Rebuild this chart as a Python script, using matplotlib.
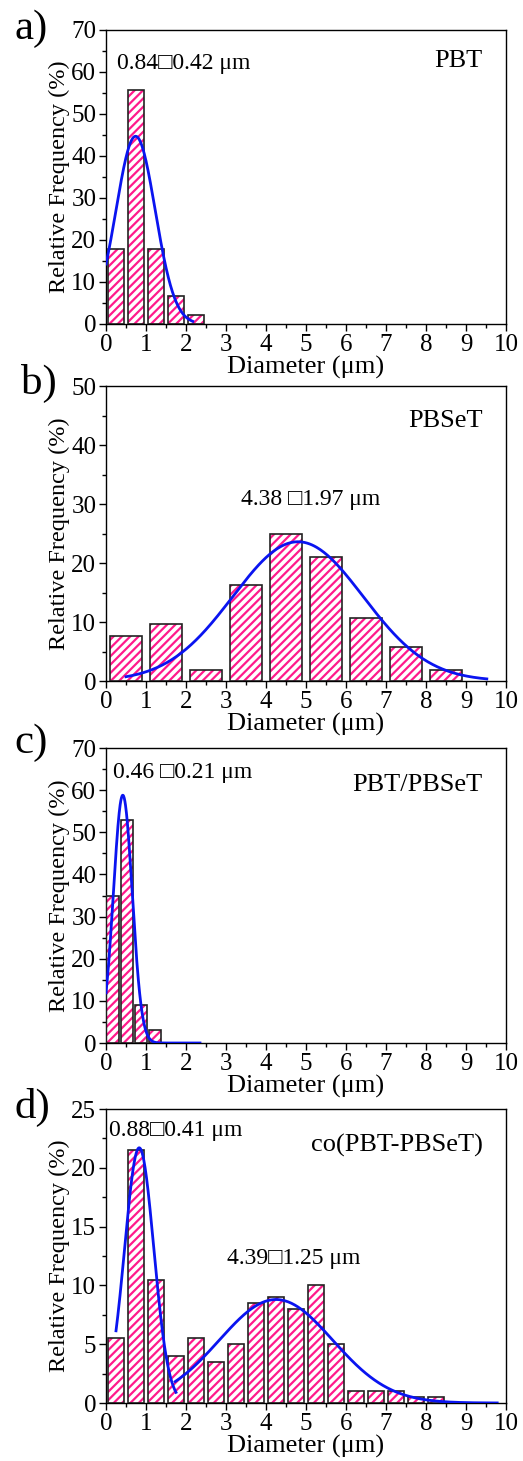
import numpy as np
import matplotlib
matplotlib.use("Agg")
import matplotlib.pyplot as plt
from matplotlib.ticker import MultipleLocator

plt.rcParams['font.family'] = ['Liberation Serif', 'DejaVu Sans']
plt.rcParams['hatch.linewidth'] = 1.6

# -----------------------------
# Data
# -----------------------------
# a) PBT
a_centers = [0.25, 0.75, 1.25, 1.75, 2.25]
a_freq = [17.8, 55.6, 17.8, 6.7, 2.2]
# Gaussian fit: (x start, x end, centre, sigma, peak)
a_fit = [(0.0, 2.17, 0.74, 0.49, 44.7)]

# b) PBSeT
b_centers = [0.5, 1.5, 2.5, 3.5, 4.5, 5.5, 6.5, 7.5, 8.5]
b_freq = [7.6, 9.6, 1.9, 16.3, 25.0, 21.1, 10.6, 5.7, 1.9]
b_fit = [(0.5, 9.52, 4.8, 1.63, 23.6)]

# c) PBT/PBSeT
c_centers = [0.16, 0.525, 0.875, 1.225]
c_freq = [35.0, 53.0, 9.1, 3.0]
c_fit = [(0.0, 2.35, 0.42, 0.235, 58.8)]

# d) co(PBT-PBSeT)
d_centers = [0.25, 0.75, 1.25, 1.75, 2.25, 2.75, 3.25, 3.75, 4.25,
             4.75, 5.25, 5.75, 6.25, 6.75, 7.25, 7.75, 8.25]
d_freq = [5.5, 21.5, 10.5, 4.0, 5.5, 3.5, 5.0, 8.5, 9.0,
          8.0, 10.0, 5.0, 1.0, 1.0, 1.0, 0.5, 0.5]
d_fit = [(0.25, 1.75, 0.83, 0.365, 21.7),
         (1.73, 9.78, 4.25, 1.42, 8.8)]

panels = [
    dict(letter="a)", centers=a_centers, freq=a_freq, width=0.4, fit=a_fit,
         ymax=70, ymajor=10, name="PBT", name_y=62.6,
         notes=[("0.84\u25a10.42 \u03bcm", 0.28, 62.1)]),
    dict(letter="b)", centers=b_centers, freq=b_freq, width=0.8, fit=b_fit,
         ymax=50, ymajor=10, name="PBSeT", name_y=44.0,
         notes=[("4.38 \u25a11.97 \u03bcm", 3.37, 30.7)]),
    dict(letter="c)", centers=c_centers, freq=c_freq, width=0.31, fit=c_fit,
         ymax=70, ymajor=10, name="PBT/PBSeT", name_y=61.3,
         notes=[("0.46 \u25a10.21 \u03bcm", 0.18, 64.3)]),
    dict(letter="d)", centers=d_centers, freq=d_freq, width=0.4, fit=d_fit,
         ymax=25, ymajor=5, name="co(PBT-PBSeT)", name_y=21.9,
         notes=[("0.88\u25a10.41 \u03bcm", 0.08, 23.2),
                ("4.39\u25a11.25 \u03bcm", 3.02, 12.3)]),
]

W, H = 523, 1461
fig = plt.figure(figsize=(W / 100, H / 100), dpi=100)

# axes boxes in pixels: (top, bottom)
boxes = [(30, 324), (386, 681), (748, 1043), (1109, 1403)]
letter_pos = [(14, 29), (21, 383), (14, 743), (14, 1107)]
left_px, right_px = 106, 506
pink = "#FF1A8C"

for p, (top, bot), (lx, ly) in zip(panels, boxes, letter_pos):
    ax = fig.add_axes([left_px / W, 1 - bot / H, (right_px - left_px) / W, (bot - top) / H])

    # hatched bars, then dark outlines on top
    ax.bar(p["centers"], p["freq"], width=p["width"], color="white",
           edgecolor=pink, hatch="////", linewidth=0, zorder=2)
    ax.bar(p["centers"], p["freq"], width=p["width"], fill=False,
           edgecolor="#222222", linewidth=1.2, zorder=3)

    # Gaussian fit curves
    for x0, x1, mu, sig, amp in p["fit"]:
        xs = np.linspace(x0, x1, 300)
        ax.plot(xs, amp * np.exp(-(xs - mu) ** 2 / (2 * sig ** 2)),
                color="#0A14F0", linewidth=2.0, zorder=4)

    ax.set_xlim(0, 10)
    ax.set_ylim(0, p["ymax"])
    ax.xaxis.set_major_locator(MultipleLocator(1))
    ax.xaxis.set_minor_locator(MultipleLocator(0.5))
    ax.yaxis.set_major_locator(MultipleLocator(p["ymajor"]))
    ax.yaxis.set_minor_locator(MultipleLocator(p["ymajor"] / 2))
    ax.tick_params(which="both", direction="out", top=False, right=False,
                   labelsize=18, width=1.0, color="black")
    ax.tick_params(which="major", length=5, pad=2)
    ax.tick_params(which="minor", length=3)
    for s in ax.spines.values():
        s.set_linewidth(1.0)

    ax.set_xlabel("Diameter (\u03bcm)", fontsize=19, labelpad=0)
    ax.set_ylabel("Relative Frequency (%)", fontsize=17.5, labelpad=1)

    ax.text(9.42, p["name_y"], p["name"], fontsize=19, ha="right", va="center")
    for txt, x, y in p["notes"]:
        ax.text(x, y, txt, fontsize=17, ha="left", va="center")

    fig.text(lx / W, 1 - ly / H, p["letter"], fontsize=31, ha="left", va="center")

fig.savefig("out.png", dpi=100)
